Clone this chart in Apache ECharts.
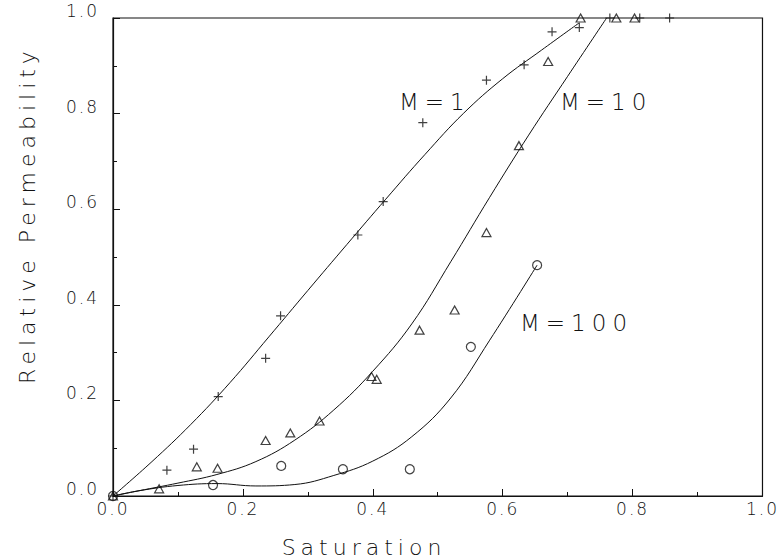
<!DOCTYPE html>
<html>
<head>
<meta charset="utf-8">
<script src="https://cdn.jsdelivr.net/npm/echarts@6/dist/echarts.min.js"></script>
<style>
  html, body { margin: 0; padding: 0; background: #fff; }
  #chart { width: 779px; height: 560px; }
  #chart svg text { letter-spacing: 2px; }
  #chart svg text[style*="22px"] { letter-spacing: 5px; }
  #chart svg text[style*="23px"] { letter-spacing: 6px; }
</style>
</head>
<body>
<div id="chart"></div>
<script>
// measured points [saturation, relative permeability]
var plusM1 = [[0, 0], [0.083, 0.054], [0.124, 0.098], [0.162, 0.208], [0.235, 0.288], [0.258, 0.377],
  [0.377, 0.546], [0.416, 0.616], [0.477, 0.781], [0.575, 0.870], [0.633, 0.902], [0.676, 0.971],
  [0.718, 0.980], [0.765, 1.0], [0.811, 1.0], [0.857, 1.0]];
var triM10 = [[0, 0], [0.071, 0.015], [0.129, 0.061], [0.161, 0.058], [0.235, 0.116], [0.273, 0.132],
  [0.318, 0.157], [0.398, 0.250], [0.406, 0.244], [0.472, 0.347], [0.526, 0.389], [0.575, 0.551],
  [0.625, 0.733], [0.670, 0.909], [0.720, 1.0], [0.775, 1.0], [0.803, 1.0]];
var circM100 = [[0, 0], [0.154, 0.023], [0.259, 0.063], [0.354, 0.056], [0.457, 0.056], [0.551, 0.312], [0.653, 0.483]];

// fitted curves
var curveM1 = [[0, 0], [0.06, 0.072], [0.12, 0.15], [0.18, 0.237], [0.24, 0.333], [0.3, 0.43], [0.36, 0.526],
  [0.42, 0.621], [0.48, 0.714], [0.54, 0.801], [0.6, 0.873], [0.66, 0.933], [0.718, 0.99]];
var curveM10 = [[0, 0], [0.04, 0.011], [0.1, 0.027], [0.16, 0.045], [0.22, 0.072], [0.28, 0.117], [0.34, 0.18],
  [0.4, 0.261], [0.46, 0.36], [0.52, 0.49], [0.58, 0.625], [0.64, 0.755], [0.7, 0.878], [0.76, 1.0]];
var curveM100 = [[0, 0], [0.04, 0.011], [0.1, 0.022], [0.16, 0.026], [0.22, 0.021], [0.28, 0.024], [0.34, 0.043],
  [0.4, 0.073], [0.46, 0.124], [0.52, 0.205], [0.58, 0.326], [0.653, 0.483]];

var font = 'DejaVu Sans';
var ink = '#111';

var chart = echarts.init(document.getElementById('chart'), null, { renderer: 'svg' });

function fmt(v) { return v.toFixed(1); }

function axis(label) {
  return {
    type: 'value',
    min: 0,
    max: 1,
    interval: 0.2,
    axisLine: { show: true, lineStyle: { color: ink, width: 1.2 } },
    axisTick: { show: true, inside: true, length: 7, lineStyle: { color: ink } },
    minorTick: { show: true, splitNumber: 2, length: 4, lineStyle: { color: ink } },
    splitLine: { show: false },
    axisLabel: Object.assign({ color: ink, fontFamily: font, fontSize: 17, fontWeight: 200, formatter: fmt }, label)
  };
}

function curve(data) {
  return {
    type: 'line', data: data, smooth: 0.4, showSymbol: false, silent: true,
    lineStyle: { color: ink, width: 1 }
  };
}

function marks(data, symbol, size) {
  return {
    type: 'scatter', data: data, symbol: symbol, symbolSize: size, clip: false,
    itemStyle: { color: 'rgba(0,0,0,0)', borderColor: ink, borderWidth: 1.2 }
  };
}

var option = {
  backgroundColor: '#fff',
  animation: false,
  grid: { left: 113, right: 16, top: 18, bottom: 64, show: true, borderColor: ink, borderWidth: 1.2 },
  xAxis: axis({ margin: 4 }),
  yAxis: axis({ margin: 14, verticalAlign: 'bottom', lineHeight: 14 }),
  series: [
    curve(curveM1),
    curve(curveM10),
    curve(curveM100),
    marks(plusM1, 'path://M0,5L10,5M5,0L5,10', 9),
    marks(triM10, 'triangle', [9, 8]),
    marks(circM100, 'circle', 9)
  ],
  graphic: [
    { type: 'text', x: 399, y: 102, style: { text: 'M=1', fill: ink, font: '200 23px ' + font, align: 'left', verticalAlign: 'middle' } },
    { type: 'text', x: 560, y: 102, style: { text: 'M=10', fill: ink, font: '200 23px ' + font, align: 'left', verticalAlign: 'middle' } },
    { type: 'text', x: 520, y: 323, style: { text: 'M=100', fill: ink, font: '200 23px ' + font, align: 'left', verticalAlign: 'middle' } },
    { type: 'text', x: 364, y: 547, style: { text: 'Saturation', fill: ink, font: '200 22px ' + font, align: 'center', verticalAlign: 'middle' } },
    { type: 'text', x: 27, y: 215, rotation: Math.PI / 2,
      style: { text: 'Relative Permeability', fill: ink, font: '200 22px ' + font, align: 'center', verticalAlign: 'middle' } }
  ]
};

chart.setOption(option);
</script>
</body>
</html>
